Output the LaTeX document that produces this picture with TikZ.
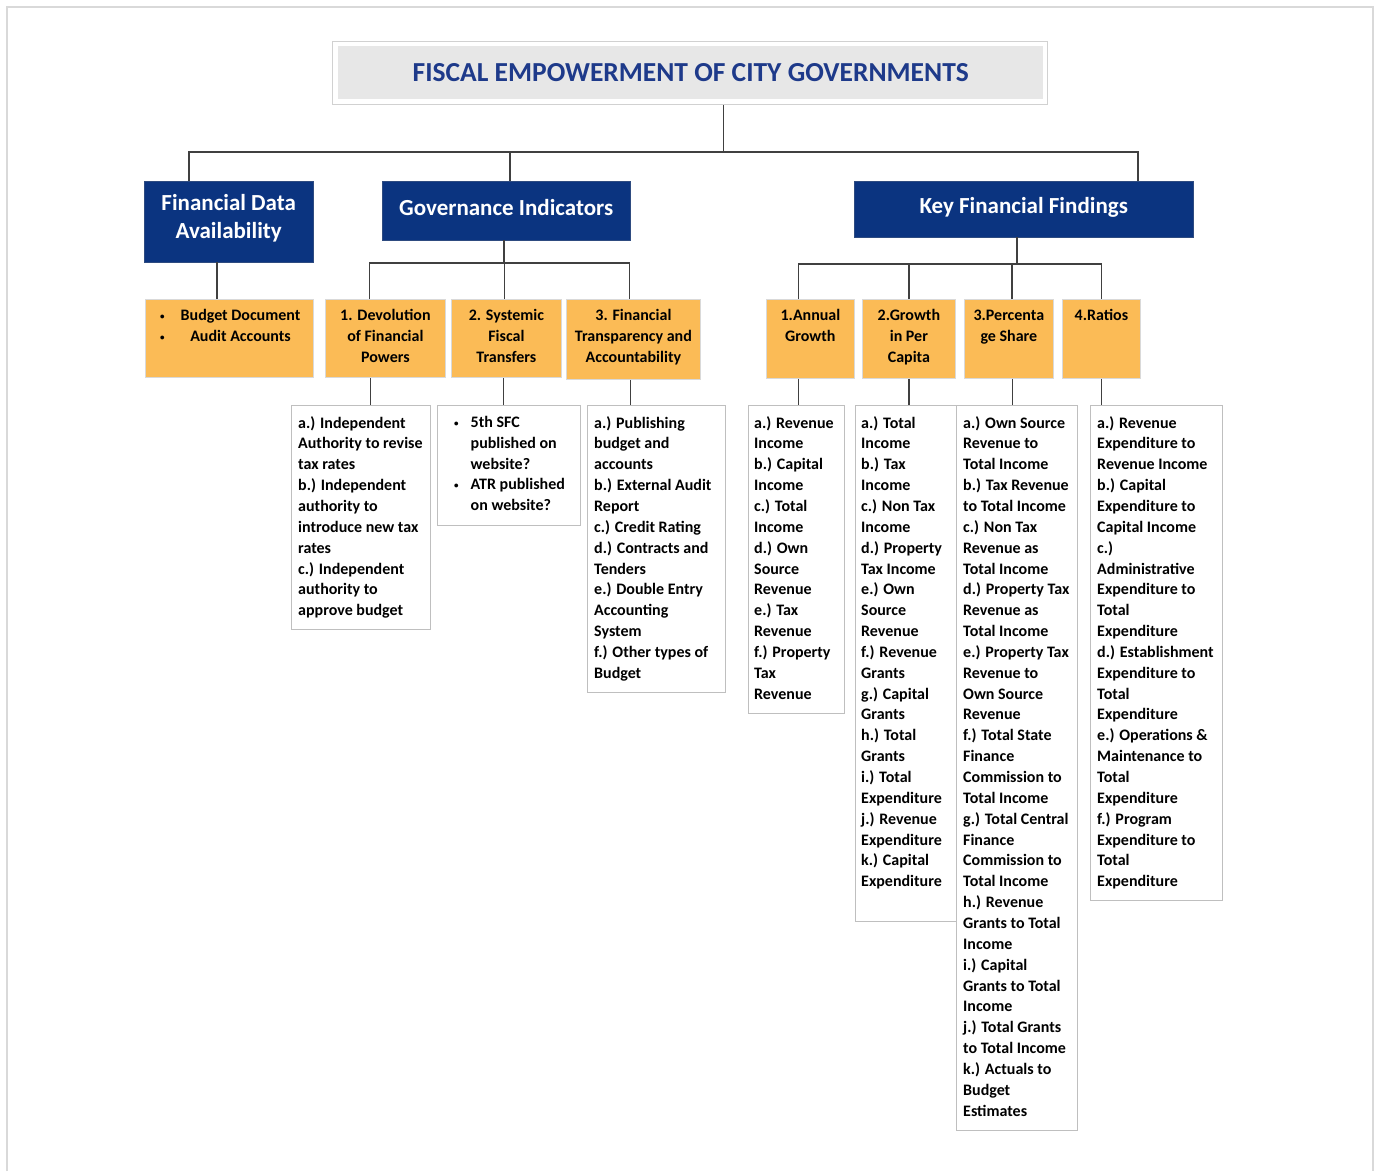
\documentclass[tikz,border=0pt]{standalone}
\usepackage{fontspec}
\setmainfont{Carlito}
\usepackage{tikz}
\definecolor{headblue}{RGB}{11,52,128}
\definecolor{titleblue}{RGB}{30,58,138}
\definecolor{titlegray}{RGB}{231,231,231}
\definecolor{suborange}{RGB}{251,187,86}
\definecolor{linkgray}{RGB}{64,64,64}
\newcommand{\feTitleFont}{\fontsize{27.5}{32}\selectfont\bfseries}
\newcommand{\feHeadFont}{\fontsize{23}{28}\selectfont\bfseries}
\newcommand{\feItemFont}{\fontsize{16}{20.85}\selectfont\bfseries}
\newcommand{\feDot}{\raisebox{1pt}{\fontsize{9}{9}\selectfont\textbullet}}
\tikzset{%
  every head/.style={
    fill=headblue,
    draw=headblue!70!gray,
    text=white,
    font=\feHeadFont,
    align=center,
    inner sep=0pt,
    anchor=north west
  },
  title frame/.style={
    draw=black!18,
    line width=1pt,
    inner sep=0pt,
    anchor=north west,
    minimum width=715pt,
    minimum height=63pt
  },
  title box/.style={
    fill=titlegray,
    text=titleblue,
    font=\feTitleFont,
    inner sep=0pt,
    anchor=north west,
    minimum width=705pt,
    minimum height=53pt
  },
  sub box/.style={fill=suborange, draw=black!15, line width=0.8pt, inner sep=0pt, anchor=north west},
  sub text/.style={font=\feItemFont, align=center, inner sep=0pt, anchor=north},
  list box/.style={fill=white, draw=black!25, line width=0.8pt, inner sep=0pt, anchor=north west},
  list text/.style={font=\feItemFont, align=left, inner sep=0pt, anchor=north west},
  link/.style={draw=linkgray, line width=1.8pt},
}

\begin{document}
\begin{tikzpicture}[x=1pt, y=-1pt]
    \useasboundingbox (0,0) rectangle (1380,1171);
    \draw[black!15, line width=2pt] (7,1171) -- (7,7) -- (1373,7) -- (1373,1171);

    \node[title frame] (title_frame) at (332,41) {};
    \node[title box] (title) at (338,46) {FISCAL EMPOWERMENT OF CITY GOVERNMENTS};

    \node[every head, minimum width=169pt, minimum height=81pt, text depth=10pt] (head_data) at (144,181) {Financial Data\\Availability};
    \node[every head, minimum width=248pt, minimum height=59pt, text depth=6pt] (head_gov) at (382,181) {Governance Indicators};
    \node[every head, minimum width=339pt, minimum height=56pt, text depth=8pt] (head_key) at (854,181) {Key Financial Findings};

    \foreach \nm/\x/\w/\h in {data/145/168/78, dev/325/120/78, sys/451/110/78, fin/566/134/80,
                             ann/766/88/79, cap/862/93/79, pct/964/89/79, rat/1062/78/79}
        \node[sub box, minimum width=\w pt, minimum height=\h pt] (sub_\nm) at (\x,299) {};

    \foreach \nm/\x/\w/\h in {dev/291/139/224, sys/437/143/120, fin/587/138/287, ann/748/96/308,
                             cap/855/102/516, pct/956/121/725, rat/1090/132/495}
        \node[list box, minimum width=\w pt, minimum height=\h pt] (list_\nm) at (\x,405) {};

    \node[list text] (sub_data_txt) at ([xshift=15pt,yshift=-6.5pt]sub_data.north west)
        {\begin{tabular}{@{}l@{\hspace{16pt}}c@{}}\feDot & Budget Document\\ \feDot & Audit Accounts\end{tabular}};
    \node[sub text] (sub_dev_txt) at ([yshift=-10pt]sub_dev.north) {1. Devolution\\of Financial\\Powers};
    \node[sub text] (sub_sys_txt) at ([yshift=-10pt]sub_sys.north) {2. Systemic\\Fiscal\\Transfers};
    \node[sub text] (sub_fin_txt) at ([yshift=-10pt]sub_fin.north) {3. Financial\\Transparency and\\Accountability};
    \node[sub text] (sub_ann_txt) at ([yshift=-10pt]sub_ann.north) {1.Annual\\Growth};
    \node[sub text] (sub_cap_txt) at ([yshift=-10pt]sub_cap.north) {2.Growth\\in Per\\Capita};
    \node[sub text] (sub_pct_txt) at ([yshift=-11pt]sub_pct.north) {3.Percenta\\ge Share};
    \node[sub text] (sub_rat_txt) at ([yshift=-10pt]sub_rat.north) {4.Ratios};

    \node[list text] (list_dev_txt) at ([xshift=7pt,yshift=-11pt]list_dev.north west)
        {a.) Independent\\Authority to revise\\tax rates\\b.) Independent\\authority to\\introduce new tax\\rates\\c.) Independent\\authority to\\approve budget};
    \node[list text] (list_sys_txt) at ([xshift=17pt,yshift=-7.5pt]list_sys.north west)
        {\begin{tabular}{@{}l@{\hspace{12pt}}l@{}}\feDot & 5th SFC\\ & published on\\ & website?\\ \feDot & ATR published\\ & on website?\end{tabular}};
    \node[list text] (list_fin_txt) at ([xshift=7pt,yshift=-11pt]list_fin.north west)
        {a.) Publishing\\budget and\\accounts\\b.) External Audit\\Report\\c.) Credit Rating\\d.) Contracts and\\Tenders\\e.) Double Entry\\Accounting\\System\\f.) Other types of\\Budget};
    \node[list text] (list_ann_txt) at ([xshift=6pt,yshift=-11pt]list_ann.north west)
        {a.) Revenue\\Income\\b.) Capital\\Income\\c.) Total\\Income\\d.) Own\\Source\\Revenue\\e.) Tax\\Revenue\\f.) Property\\Tax\\Revenue};
    \node[list text] (list_cap_txt) at ([xshift=6pt,yshift=-11pt]list_cap.north west)
        {a.) Total\\Income\\b.) Tax\\Income\\c.) Non Tax\\Income\\d.) Property\\Tax Income\\e.) Own\\Source\\Revenue\\f.) Revenue\\Grants\\g.) Capital\\Grants\\h.) Total\\Grants\\i.) Total\\Expenditure\\j.) Revenue\\Expenditure\\k.) Capital\\Expenditure};
    \node[list text] (list_pct_txt) at ([xshift=7pt,yshift=-11pt]list_pct.north west)
        {a.) Own Source\\Revenue to\\Total Income\\b.) Tax Revenue\\to Total Income\\c.) Non Tax\\Revenue as\\Total Income\\d.) Property Tax\\Revenue as\\Total Income\\e.) Property Tax\\Revenue to\\Own Source\\Revenue\\f.) Total State\\Finance\\Commission to\\Total Income\\g.) Total Central\\Finance\\Commission to\\Total Income\\h.) Revenue\\Grants to Total\\Income\\i.) Capital\\Grants to Total\\Income\\j.) Total Grants\\to Total Income\\k.) Actuals to\\Budget\\Estimates};
    \node[list text] (list_rat_txt) at ([xshift=7pt,yshift=-11pt]list_rat.north west)
        {a.) Revenue\\Expenditure to\\Revenue Income\\b.) Capital\\Expenditure to\\Capital Income\\c.)\\Administrative\\Expenditure to\\Total\\Expenditure\\d.) Establishment\\Expenditure to\\Total\\Expenditure\\e.) Operations \&\\Maintenance to\\Total\\Expenditure\\f.) Program\\Expenditure to\\Total\\Expenditure};

    \coordinate (bar_top) at (723,152);
    \coordinate (gov_bar) at (504,263);
    \coordinate (key_bar) at (1017,264);

    \draw[link] ([xshift=33.5pt]title_frame.south) -- ([xshift=33.5pt]title_frame.south |- bar_top);
    \draw[link] ([xshift=-39.5pt]head_data.north) |- ([xshift=114.5pt]head_key.north |- bar_top) -- ([xshift=114.5pt]head_key.north);
    \draw[link] ([xshift=4pt]head_gov.north) -- ([xshift=4pt]head_gov.north |- bar_top);

    \draw[link] ([xshift=-11.5pt]head_data.south) -- ([xshift=-11.5pt]head_data.south |- sub_data.north);

    \draw[link] (head_gov.south -| gov_bar) -- (gov_bar);
    \draw[link] ([xshift=-16pt]sub_dev.north) |- ([xshift=-4pt]sub_fin.north |- gov_bar) -- ([xshift=-4pt]sub_fin.north);
    \draw[link] ([xshift=-2pt]sub_sys.north) -- ([xshift=-2pt]sub_sys.north |- gov_bar);

    \draw[link] (head_key.south -| key_bar) -- (key_bar);
    \draw[link] ([xshift=-12pt]sub_ann.north) |- (sub_rat.north |- key_bar) -- (sub_rat.north);
    \draw[link] (sub_cap.north) -- (sub_cap.north |- key_bar);
    \draw[link] ([xshift=3pt]sub_pct.north) -- ([xshift=3pt]sub_pct.north |- key_bar);

    \foreach \nm/\dx in {dev/-15, sys/-3, fin/-3, ann/-12, cap/0, pct/3.5, rat/0}
        \draw[link] ([xshift=\dx pt]sub_\nm.south) -- ([xshift=\dx pt]sub_\nm.south |- list_\nm.north);
\end{tikzpicture}
\end{document}
